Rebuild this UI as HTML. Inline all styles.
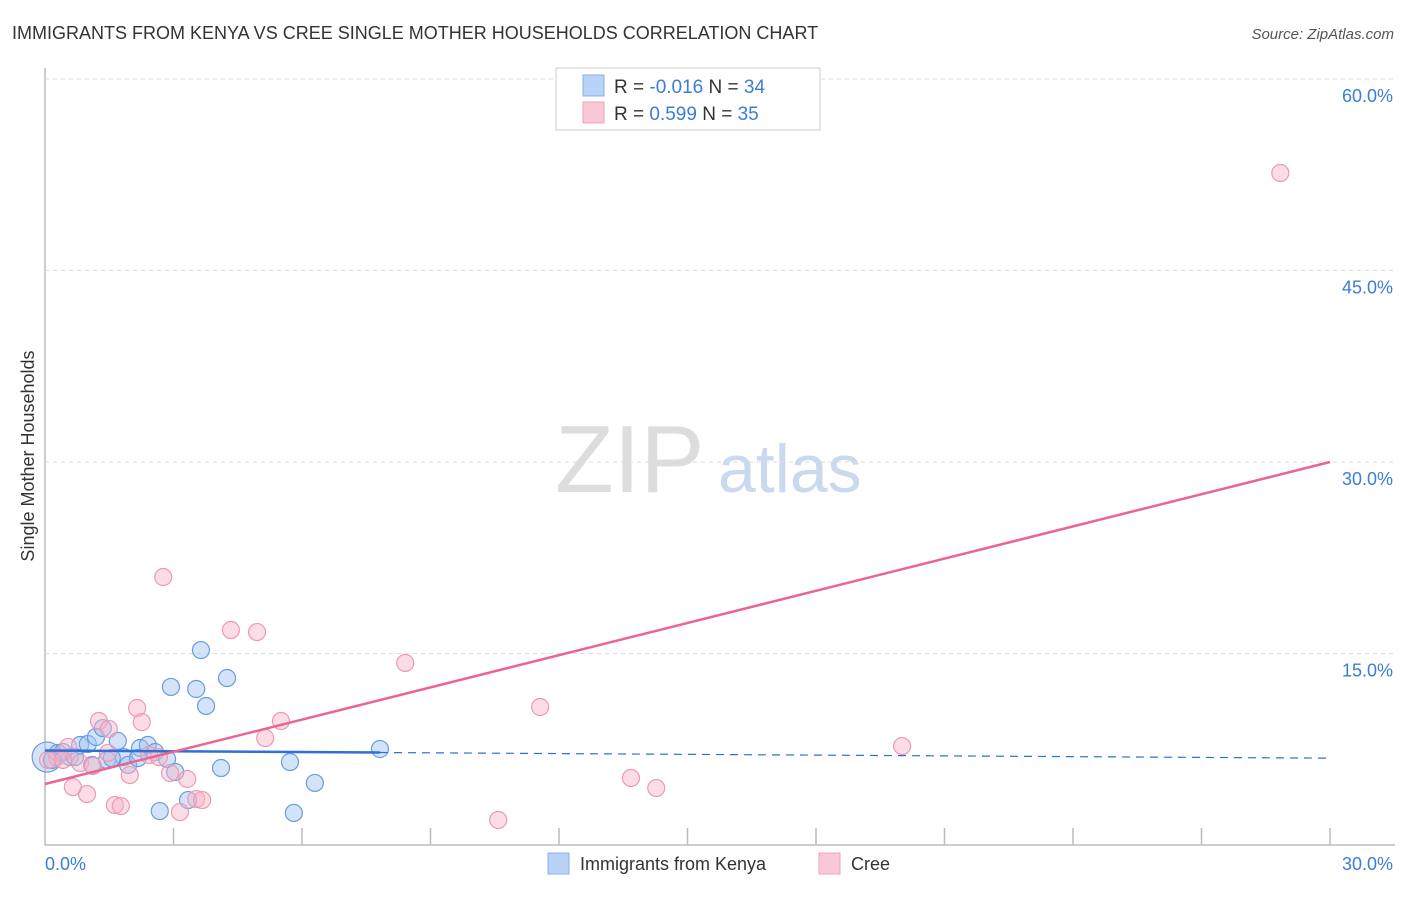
<!DOCTYPE html>
<html><head><meta charset="utf-8"><style>
body{margin:0;background:#fff;font-family:"Liberation Sans",sans-serif;}
svg text{font-family:"Liberation Sans",sans-serif;}
</style></head><body>
<svg id="chart" width="1406" height="892" viewBox="0 0 1406 892">
<text x="12" y="39" font-size="18" fill="#333">IMMIGRANTS FROM KENYA VS CREE SINGLE MOTHER HOUSEHOLDS CORRELATION CHART</text>
<text x="1394" y="39" font-size="15" fill="#555" font-style="italic" text-anchor="end">Source: ZipAtlas.com</text>
<text x="0" y="0" transform="translate(34,456) rotate(-90)" font-size="18" fill="#333" text-anchor="middle">Single Mother Households</text>
<text x="555" y="492" font-size="96" fill="#ddd" font-family="Liberation Serif">ZIP</text>
<text x="718" y="492" font-size="68" fill="#c9d9f0">atlas</text>
<g id="grid"></g>
<g id="marks"></g>
<g>
<rect x="556" y="68" width="264" height="62" fill="#fff" stroke="#ccc"/>
<rect x="583" y="75" width="21" height="21" fill="#b8d3f5" stroke="#8ab0e6"/>
<rect x="583" y="102" width="21" height="21" fill="#f9c8d6" stroke="#eea3b9"/>
<text x="614" y="93" font-size="19" fill="#333">R = <tspan fill="#3b7dd8">-0.016</tspan>   N = <tspan fill="#3b7dd8">34</tspan></text>
<text x="614" y="120" font-size="19" fill="#333">R =  <tspan fill="#3b7dd8"> 0.599</tspan>   N = <tspan fill="#3b7dd8">35</tspan></text>
</g>
<g>
<rect x="548" y="853" width="21" height="21" fill="#b8d3f5" stroke="#8ab0e6"/>
<text x="580" y="870" font-size="18" fill="#333">Immigrants from Kenya</text>
<rect x="819" y="853" width="21" height="21" fill="#f9c8d6" stroke="#eea3b9"/>
<text x="851" y="870" font-size="18" fill="#333">Cree</text>
</g>
</svg>
<script>
const yTicks=[15,30,45,60];
const yTickLabels=["15.0%","30.0%","45.0%","60.0%"];
const xTickLabels=["0.0%","30.0%"];
const kenyaX=[0.05,0.30,0.58,0.82,1.00,1.19,1.35,1.45,1.70,1.84,1.94,2.22,2.40,2.57,2.68,2.85,2.94,3.04,3.34,3.53,3.64,3.76,4.11,4.25,5.72,5.81,6.30,7.82,0.42,1.10,1.56,0.70,2.17,0.16];
const kenyaY=[6.89,7.21,6.89,7.83,7.91,8.46,9.16,6.66,8.15,6.89,6.27,7.60,7.83,7.28,2.66,6.74,12.38,5.72,3.52,12.22,15.27,10.89,6.03,13.08,6.50,2.51,4.86,7.52,7.28,6.27,6.81,6.89,6.81,6.66];
const creeX=[28.84,2.76,4.34,4.95,8.41,11.56,20.01,5.14,5.51,2.15,2.26,1.26,1.49,13.68,14.27,10.58,3.15,1.63,1.77,0.98,0.65,3.53,3.67,3.32,2.92,1.98,2.43,2.66,0.54,0.28,0.07,0.82,1.12,1.47,0.42];
const creeY=[52.64,20.99,16.84,16.68,14.26,10.81,7.75,8.38,9.71,10.73,9.63,9.71,9.09,5.25,4.46,1.96,2.58,3.13,3.05,3.99,4.54,3.60,3.52,5.17,5.64,5.48,7.05,6.89,7.68,6.89,6.66,6.42,6.19,7.21,6.66];
const kenyaTrend=[7.4,6.8];
const kenyaSolidEnd=7.82;
const creeTrend=[4.78,30.0];

const NS="http://www.w3.org/2000/svg";
const X0=45,X1=1330,Y0=845,YPER=191.5/15;
function sx(v){return X0+(X1-X0)*v/30;}
function sy(v){return Y0-v*YPER;}
function mk(tag,attrs,parent){const e=document.createElementNS(NS,tag);for(const k in attrs)e.setAttribute(k,attrs[k]);parent.appendChild(e);return e;}
const grid=document.getElementById('grid'),marks=document.getElementById('marks');
let a=mk('line',{x1:X0,y1:68,x2:X0,y2:Y0,stroke:'#bbb','stroke-width':1.5},grid);


let b=mk('line',{x1:X0,y1:Y0,x2:1395,y2:Y0,stroke:'#bbb','stroke-width':1.5},grid);


yTicks.forEach((t,i)=>{
 const g=mk('line',{x1:X0,y1:sy(t),x2:1395,y2:sy(t),stroke:'#ddd','stroke-dasharray':'4,4'},grid);
 
 
 const tx=mk('text',{x:1393,y:sy(t)+23,'font-size':18,fill:'#3b7dd8','text-anchor':'end'},grid);
 tx.textContent=yTickLabels[i];
 
 
});
for(let i=1;i<=10;i++){
 const x=sx(i*3);
 const t=mk('line',{x1:x,y1:828,x2:x,y2:Y0,stroke:'#bbb','stroke-width':1.5},grid);
 
 
}
[[0,'start',45],[30,'end',1393]].forEach((d,i)=>{
 const t=mk('text',{x:d[2],y:870,'font-size':18,fill:'#3b7dd8','text-anchor':d[1]},grid);
 t.textContent=xTickLabels[i];
 
 
});
kenyaX.forEach((v,i)=>{
 const c=mk('circle',{cx:sx(v),cy:sy(kenyaY[i]),r:i===0?15:8.5,fill:'rgba(160,196,240,0.45)',stroke:'#6a9be0','stroke-width':1.2},marks);
 
 
});
creeX.forEach((v,i)=>{
 const c=mk('circle',{cx:sx(v),cy:sy(creeY[i]),r:8.5,fill:'rgba(248,180,200,0.45)',stroke:'#ec9ab3','stroke-width':1.2},marks);
 
 
});
function ky(x){return kenyaTrend[0]+(kenyaTrend[1]-kenyaTrend[0])*x/30;}
let l1=mk('line',{x1:sx(0),y1:sy(ky(0)),x2:sx(kenyaSolidEnd),y2:sy(ky(kenyaSolidEnd)),stroke:'#2f6fd6','stroke-width':2.5},marks);


let l2=mk('line',{x1:sx(kenyaSolidEnd),y1:sy(ky(kenyaSolidEnd)),x2:sx(30),y2:sy(ky(30)),stroke:'#2f6fd6','stroke-width':1.2,'stroke-dasharray':'8,6'},marks);


let l3=mk('line',{x1:sx(0),y1:sy(creeTrend[0]),x2:sx(30),y2:sy(creeTrend[1]),stroke:'#e8668f','stroke-width':2.5},marks);


</script>
</body></html>
